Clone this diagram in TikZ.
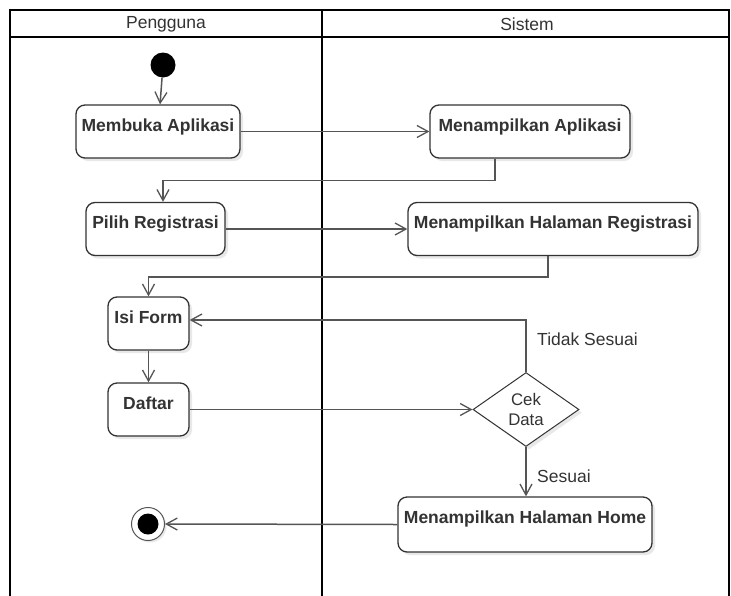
\documentclass[tikz,border=0pt]{standalone}
\usepackage{fontspec}
\setmainfont{Liberation Sans}
\usetikzlibrary{arrows.meta,shapes.geometric,shadows,calc}
\definecolor{ink}{HTML}{333333}
\definecolor{wire}{HTML}{555555}
\begin{document}
\begin{tikzpicture}[x=1pt,y=-1pt,
  act/.style={draw=ink, line width=1.3pt, rounded corners=9pt, fill=white,
    inner xsep=2pt, inner ysep=4pt, text height=22pt, text depth=23pt,
    font=\bfseries\fontsize{17.5}{20}\selectfont, text=ink,
    drop shadow={shadow xshift=3pt, shadow yshift=-3pt, opacity=0.15, fill=black!60}},
  decision/.style={diamond, draw=ink, line width=1pt, fill=white, aspect=1.43,
    minimum width=106pt, minimum height=74pt, inner sep=0pt, align=center,
    font=\fontsize{16.8}{20}\selectfont, text=ink,
    drop shadow={shadow xshift=3pt, shadow yshift=-3pt, opacity=0.15, fill=black!60}},
  flow/.style={draw=wire, line width=1.5pt, -{Straight Barb[length=11pt,width=12pt,line width=1.3pt]}},
  guard/.style={font=\fontsize{17.5}{20}\selectfont, text=ink, anchor=west, inner sep=0pt},
  lanehead/.style={font=\fontsize{17.5}{20}\selectfont, text=ink}]
\useasboundingbox (0,0) rectangle (731,595);
\fill[white] (0,0) rectangle (731,595);

% swimlane frame
\draw[black, line width=2pt] (10,598) -- (10,10) -- (729,10) -- (729,598);
\draw[black, line width=2pt] (10,37) -- (729,37);
\draw[black, line width=2pt] (322,10) -- (322,598);
\node[lanehead] (lp) at (166,24) {Pengguna};
\node[lanehead] (ls) at (527,24) {Sistem};

% start and end
\node[circle, fill=black, minimum size=25pt, inner sep=0pt] (start) at (163,65) {};
\node[circle, draw=wire, line width=1pt, fill=white, minimum size=33pt, inner sep=0pt,
  drop shadow={shadow xshift=2pt, shadow yshift=-2pt, opacity=0.15, fill=black!60}] (fin) at (148,524) {};
\node[circle, fill=black, minimum size=21pt, inner sep=0pt] (finc) at (fin) {};

% activities
\node[act, minimum width=164pt] (mb) at (158,131.5) {Membuka Aplikasi};
\node[act, minimum width=200pt] (ma) at (530,131.5) {Menampilkan Aplikasi};
\node[act, minimum width=139pt] (pr) at (155.5,229) {Pilih Registrasi};
\node[act, minimum width=290pt] (mr) at (553,229) {Menampilkan Halaman Registrasi};
\node[act, minimum width=81pt] (isi) at (148.5,323.5) {Isi Form};
\node[act, minimum width=81pt] (df) at (148.5,409.5) {Daftar};
\node[decision] (cek) at (526,409.5) {Cek\\Data};
\node[act, minimum width=254pt, text depth=25pt] (mh) at (525,524.5) {Menampilkan Halaman Home};

% transitions
\draw[flow] (start) -- (mb);
\draw[flow] (mb.east) -- (ma.west);
\draw[flow] ([xshift=-35pt]ma.south) -- ++(0,22) -| ([xshift=7.5pt]pr.north);
\draw[flow] (pr.east) -- (mr.west);
\draw[flow] ([xshift=-5pt]mr.south) -- ++(0,21) -| (isi.north);
\draw[flow] (isi.south) -- (df.north);
\draw[flow] (df.east) -- (cek.west);
\draw[flow] (cek.north) |- ([yshift=3.5pt]isi.east);
\draw[flow] (cek.south) -- (cek.south |- mh.north);
\draw[flow] (mh.west) -- (fin.east);

% guards
\node[guard] (gno) at (537,339) {Tidak Sesuai};
\node[guard] (gok) at (537,476) {Sesuai};
\end{tikzpicture}
\end{document}
